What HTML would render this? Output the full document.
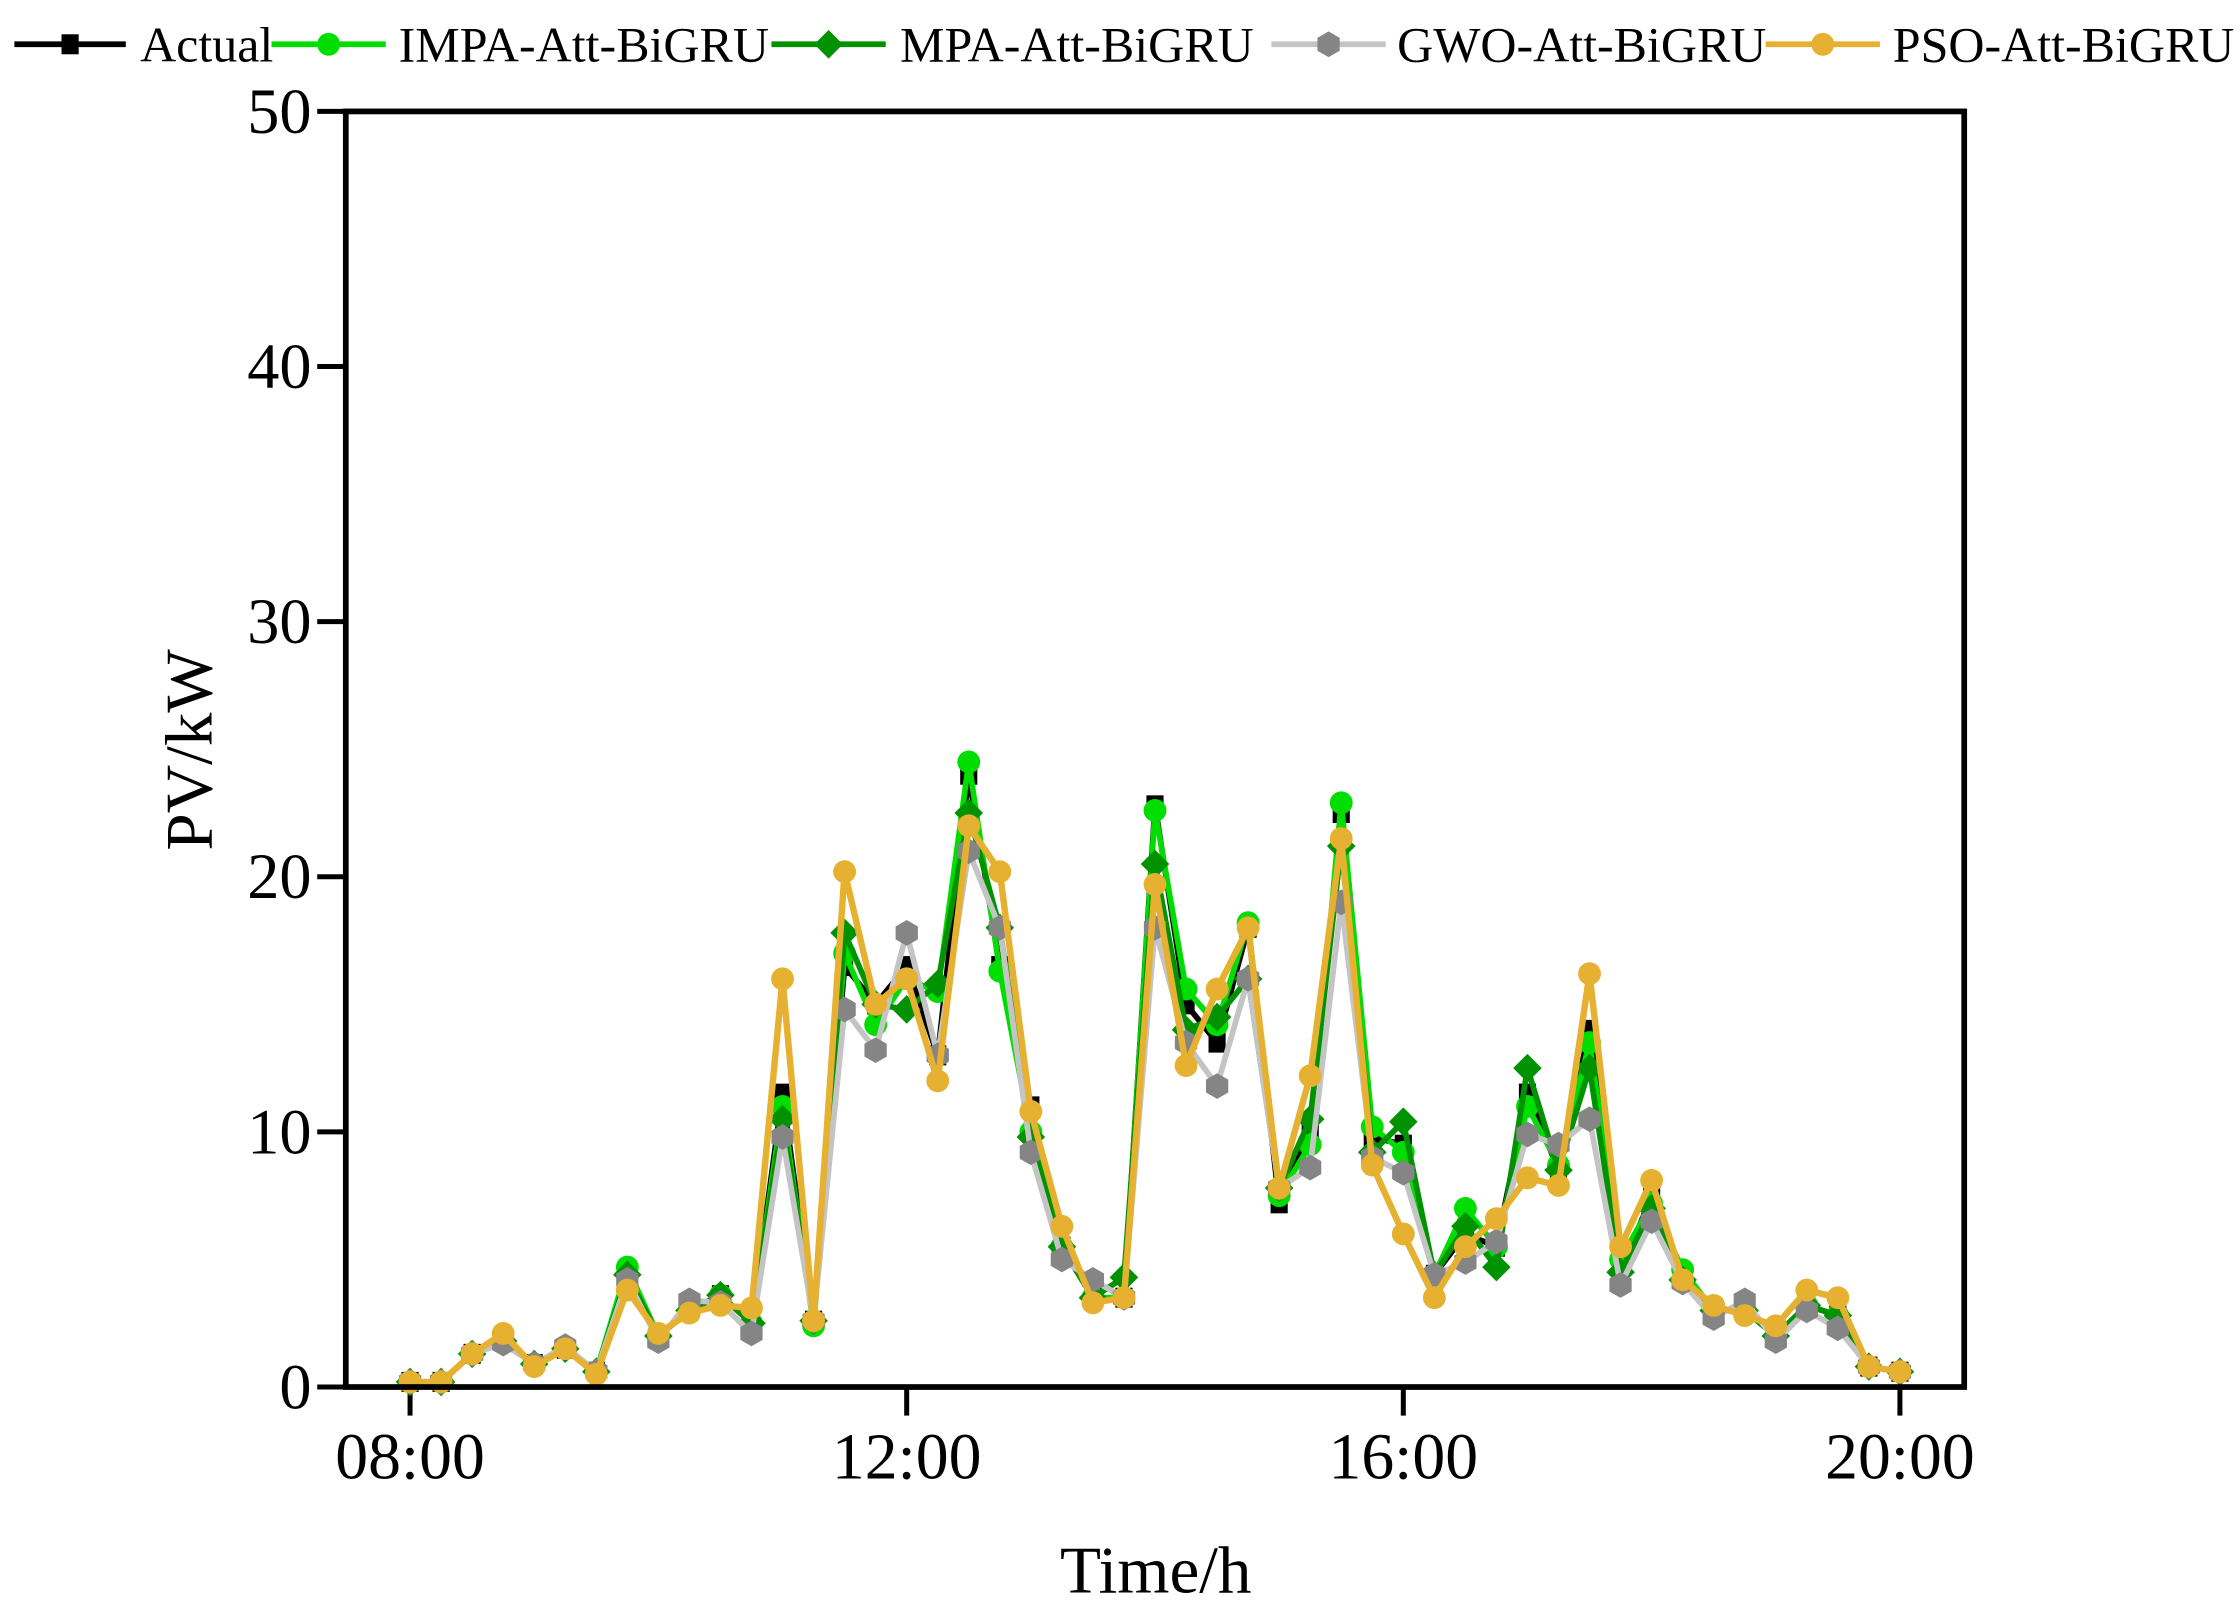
<!DOCTYPE html>
<html><head><meta charset="utf-8"><style>
html,body{margin:0;padding:0;background:#fff;}
svg{display:block;font-family:"Liberation Serif",serif;}
</style></head><body>
<svg id="chart" width="2240" height="1607" viewBox="0 0 1568 1125" xmlns="http://www.w3.org/2000/svg"></svg>
<script>
const times = ["08:00","12:00","16:00","20:00"];
const yTicks = [0,10,20,30,40,50];
const actual = [0.2,0.2,1.3,1.8,0.9,1.5,0.6,4.5,2.0,3.0,3.6,2.5,11.5,2.6,16.5,15.0,16.5,13.0,24.0,16.5,11.0,5.5,3.5,3.5,22.8,15.0,13.5,18.0,7.2,10.0,22.5,9.8,9.5,4.4,6.0,5.5,11.5,8.5,14.0,4.5,7.5,4.2,3.0,3.0,2.0,3.2,2.8,0.8,0.6];
const impa = [0.2,0.2,1.3,1.8,0.9,1.5,0.6,4.7,2.0,3.0,3.6,2.5,11.0,2.4,17.0,14.2,16.0,15.5,24.5,16.3,10.0,5.5,3.5,3.5,22.6,15.6,14.2,18.2,7.5,9.5,22.9,10.2,9.2,4.4,7.0,5.5,11.0,8.7,13.5,5.0,7.2,4.6,3.0,3.0,2.0,3.2,2.8,0.8,0.6];
const mpa = [0.2,0.2,1.3,1.8,0.9,1.5,0.6,4.4,2.0,3.0,3.6,2.5,10.5,2.6,17.8,15.0,14.8,15.8,22.5,18.0,9.8,5.5,3.5,4.3,20.5,14.0,14.5,16.0,7.8,10.5,21.2,9.2,10.4,4.4,6.3,4.7,12.5,8.5,12.5,4.5,7.0,4.2,3.0,3.0,2.0,3.2,2.8,0.8,0.6];
const gwo = [0.2,0.2,1.3,1.7,0.9,1.6,0.6,4.2,1.8,3.4,3.3,2.1,9.8,2.6,14.8,13.2,17.8,13.0,21.0,18.0,9.2,5.0,4.2,3.5,18.0,13.5,11.8,16.0,7.8,8.6,19.0,9.0,8.4,4.4,4.9,5.7,9.9,9.5,10.5,4.0,6.5,4.1,2.7,3.4,1.8,3.0,2.3,0.8,0.6];
const pso = [0.2,0.2,1.3,2.1,0.8,1.5,0.5,3.8,2.1,2.9,3.2,3.1,16.0,2.6,20.2,15.0,16.0,12.0,22.0,20.2,10.8,6.3,3.3,3.5,19.7,12.6,15.6,18.0,7.8,12.2,21.5,8.7,6.0,3.5,5.5,6.6,8.2,7.9,16.2,5.5,8.1,4.2,3.2,2.8,2.4,3.8,3.5,0.8,0.6];

const svg = document.getElementById('chart');
const NS = 'http://www.w3.org/2000/svg';
const L=242,R=1375,T=78,B=971;
const xs = i => 287 + (1330-287) * i / 48;
const ys = v => B - (B-T) * v / 50;
function mk(tag, attrs, parent){const e=document.createElementNS(NS,tag);for(const k in attrs)e.setAttribute(k,attrs[k]);(parent||svg).appendChild(e);return e;}

yTicks.forEach(v=>{
  const g=mk('line',{x1:L-20,x2:L,y1:ys(v),y2:ys(v),stroke:'#000','stroke-width':3.5});
  
  
  const t=mk('text',{x:L-24,y:ys(v)+15,'text-anchor':'end','font-size':45});
  t.textContent=v;
  
  
});
times.forEach((s,k)=>{
  const x=xs(k*16);
  const g=mk('line',{x1:x,x2:x,y1:B,y2:B+20,stroke:'#000','stroke-width':3.5});
  
  
  const t=mk('text',{x:x,y:1035,'text-anchor':'middle','font-size':46});
  t.textContent=s;
  
  
});
const xt=mk('text',{x:809,y:1115,'text-anchor':'middle','font-size':47});
xt.textContent='Time/h';


const yt=mk('text',{x:148,y:525,'text-anchor':'middle','font-size':47,transform:'rotate(-90 148 525)'});
yt.textContent='PV/kW';



function marker(type,x,y,color,parent){
  if(type==='square') return mk('rect',{x:x-6,y:y-7,width:12,height:14,fill:color},parent);
  if(type==='circle') return mk('circle',{cx:x,cy:y,r:8,fill:color},parent);
  if(type==='diamond') return mk('polygon',{points:`${x},${y-10} ${x+10},${y} ${x},${y+10} ${x-10},${y}`,fill:color},parent);
  if(type==='hex'){let p=[];for(let a=0;a<6;a++){const th=Math.PI/3*a+Math.PI/6;p.push((x+9*Math.cos(th)).toFixed(1)+','+(y+9*Math.sin(th)).toFixed(1));}return mk('polygon',{points:p.join(' '),fill:color},parent);}
}
const series=[
 {name:'Actual',data:actual,line:'#000',mc:'#000',m:'square',w:4},
 {name:'IMPA-Att-BiGRU',data:impa,line:'#00dd00',mc:'#00dd00',m:'circle',w:4},
 {name:'MPA-Att-BiGRU',data:mpa,line:'#009200',mc:'#009200',m:'diamond',w:4},
 {name:'GWO-Att-BiGRU',data:gwo,line:'#c4c4c4',mc:'#858585',m:'hex',w:4},
 {name:'PSO-Att-BiGRU',data:pso,line:'#e6b030',mc:'#e6b030',m:'circle',w:4.5}
];
series.forEach(s=>{
  const g=mk('g',{});
  
  
  const pl=mk('polyline',{points:s.data.map((v,i)=>xs(i)+','+ys(v)).join(' '),fill:'none',stroke:s.line,'stroke-width':s.w,'stroke-linejoin':'round'},g);
  
  
  s.data.forEach((v,i)=>{
    const m=marker(s.m,xs(i),ys(v),s.mc,g);
    
    
  });
});
const frame=mk('rect',{x:L,y:T,width:R-L,height:B-T,fill:'none',stroke:'#000','stroke-width':4});



const legX=[[10,88,98],[190,270,279],[540,620,630],[890,970,978],[1236,1316,1325]];
series.forEach((s,k)=>{
  const g=mk('g',{});
  
  
  const [a,b,tx]=legX[k];
  mk('line',{x1:a,x2:b,y1:31,y2:31,stroke:s.line,'stroke-width':4},g);
  marker(s.m,(a+b)/2,31,s.mc,g);
  const t=mk('text',{x:tx,y:43,'font-size':35},g);
  t.textContent=s.name;
});
</script>
</body></html>
